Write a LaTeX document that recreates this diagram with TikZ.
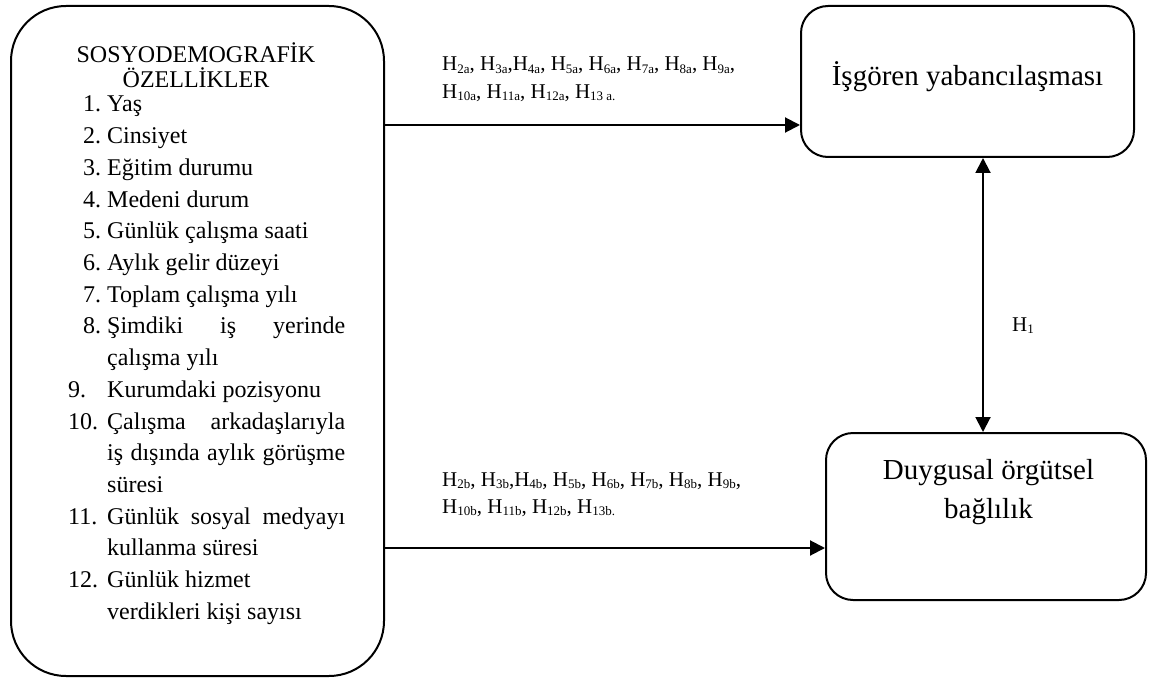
\documentclass[tikz,border=0pt]{standalone}
\usepackage{fontspec}
\setmainfont{Liberation Serif}
\usetikzlibrary{arrows.meta}
\newcommand\hsb[1]{\raisebox{-2.5pt}{\fontsize{13}{13}\selectfont #1}}
\begin{document}
\begin{tikzpicture}[x=1pt,y=-1pt,
  >={Triangle[length=15pt,width=15pt]},
  bigbox/.style={draw, line width=2pt, rounded corners=55pt, inner sep=0pt},
  smallbox/.style={draw, line width=2pt, rounded corners=27pt, inner sep=0pt},
  conn/.style={line width=2pt},
  lt/.style={inner sep=0pt, anchor=base west, font=\fontsize{24}{30}\selectfont},
  ttl/.style={inner sep=0pt, anchor=base, font=\fontsize{24}{30}\selectfont},
  bt/.style={inner sep=0pt, anchor=base, font=\fontsize{29}{35}\selectfont},
  hl/.style={inner sep=0pt, anchor=base west, font=\fontsize{21}{27}\selectfont}]
\useasboundingbox (0,0) rectangle (1150,679);

% boxes
\node[bigbox, minimum width=373pt, minimum height=670pt] (demo) at (197.5,341) {};
\node[smallbox, minimum width=333pt, minimum height=151pt] (top) at (967.5,81.5) {};
\node[smallbox, minimum width=320pt, minimum height=167pt] (bot) at (986,516.5) {};

% box texts
\node[bt] (toptext) at (967.5,86) {İşgören yabancılaşması};
\node[bt] (bottext1) at (988.5,479) {Duygusal örgütsel};
\node[bt] (bottext2) at (988.5,518) {bağlılık};

% left list
\node[ttl] (t1) at (196,63) {SOSYODEMOGRAFİK};
\node[ttl] (t2) at (196,88) {ÖZELLİKLER};
\node[lt] (n1) at (83,112) {1.};   \node[lt] (l1) at (107,112) {Yaş};
\node[lt] (n2) at (83,143.7) {2.}; \node[lt] (l2) at (107,143.7) {Cinsiyet};
\node[lt] (n3) at (83,175.4) {3.}; \node[lt] (l3) at (107,175.4) {Eğitim durumu};
\node[lt] (n4) at (83,207.1) {4.}; \node[lt] (l4) at (107,207.1) {Medeni durum};
\node[lt] (n5) at (83,238.8) {5.}; \node[lt] (l5) at (107,238.8) {Günlük çalışma saati};
\node[lt] (n6) at (83,270.5) {6.}; \node[lt] (l6) at (107,270.5) {Aylık gelir düzeyi};
\node[lt] (n7) at (83,302.2) {7.}; \node[lt] (l7) at (107,302.2) {Toplam çalışma yılı};
\node[lt] (n8) at (83,333.9) {8.}; \node[lt] (l8) at (107,333.9) {\makebox[238pt][s]{Şimdiki iş yerinde}};
\node[lt] (l8b) at (107,365.6) {çalışma yılı};
\node[lt] (n9) at (68,397.3) {9.}; \node[lt] (l9) at (107,397.3) {Kurumdaki pozisyonu};
\node[lt] (n10) at (68,429) {10.}; \node[lt] (l10) at (107,429) {\makebox[238pt][s]{Çalışma arkadaşlarıyla}};
\node[lt] (l10b) at (107,460.7) {\makebox[238pt][s]{iş dışında aylık görüşme}};
\node[lt] (l10c) at (107,492.4) {süresi};
\node[lt] (n11) at (68,524.1) {11.}; \node[lt] (l11) at (107,524.1) {\makebox[238pt][s]{Günlük sosyal medyayı}};
\node[lt] (l11b) at (107,555.8) {kullanma süresi};
\node[lt] (n12) at (68,587.5) {12.}; \node[lt] (l12) at (107,587.5) {Günlük hizmet};
\node[lt] (l12b) at (107,619.2) {verdikleri kişi sayısı};

% hypothesis labels
\node[hl] (ha1) at (442,71) {H\hsb{2a}, H\hsb{3a},H\hsb{4a}, H\hsb{5a}, H\hsb{6a}, H\hsb{7a}, H\hsb{8a}, H\hsb{9a},};
\node[hl] (ha2) at (442,98.5) {H\hsb{10a}, H\hsb{11a}, H\hsb{12a}, H\hsb{13 a.}};
\node[hl] (hb1) at (442,486) {H\hsb{2b}, H\hsb{3b},H\hsb{4b}, H\hsb{5b}, H\hsb{6b}, H\hsb{7b}, H\hsb{8b}, H\hsb{9b},};
\node[hl] (hb2) at (442,513) {H\hsb{10b}, H\hsb{11b}, H\hsb{12b}, H\hsb{13b.}};
\node[hl] (h1) at (1012,331) {H\hsb{1}};

% connectors
\coordinate (ya) at (0,125);
\coordinate (yb) at (0,548);
\coordinate (vx) at (983,0);
\draw[conn,->] (demo.east |- ya) -- (top.west |- ya);
\draw[conn,->] (demo.east |- yb) -- (bot.west |- yb);
\draw[conn,<->] (top.south -| vx) -- (bot.north -| vx);
\end{tikzpicture}
\end{document}
